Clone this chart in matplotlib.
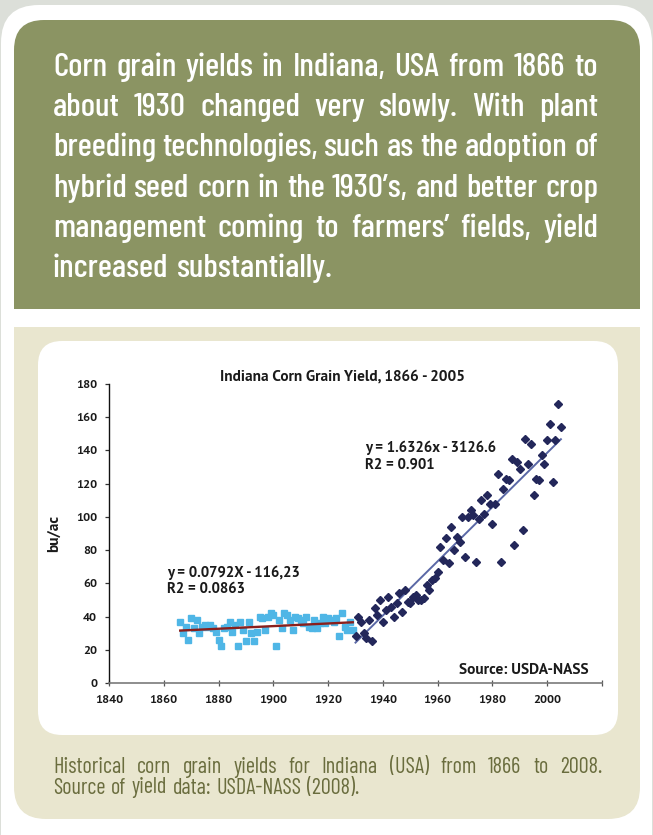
import matplotlib
matplotlib.use("Agg")
import matplotlib.pyplot as plt
from matplotlib import font_manager
from matplotlib.patches import FancyBboxPatch, Rectangle

# ---- data ------------------------------------------------------------------
early_years = list(range(1866, 1930))
early_yield = [37, 30, 34, 26, 39, 33, 38, 30, 34, 35,
               34, 35, 33, 31, 26, 22, 33, 34, 37, 31,
               35, 22, 37, 32, 25, 37, 30, 25, 31, 40,
               39, 32, 40, 42, 41, 22, 38, 33, 42, 41,
               38, 32, 40, 39, 38, 36, 40, 34, 33, 38,
               33, 36, 40, 36, 39, 38, 37, 39, 28, 42,
               34, 32, 37, 32]
late_years = list(range(1930, 2006))
late_yield = [28, 40, 37, 30, 27, 38, 25, 45, 41, 50,
              37, 44, 52, 46, 40, 48, 54, 43, 56, 49,
              48, 52, 53, 50, 50, 51, 59, 56, 62, 63,
              67, 82, 74, 87, 72, 94, 80, 88, 85, 100,
              76, 100, 104, 101, 73, 99, 110, 102, 113, 108,
              96, 108, 126, 73, 117, 123, 122, 135, 83, 133,
              129, 92, 147, 132, 144, 113, 123, 122, 137, 132,
              146, 156, 121, 146, 168, 154]
early_fit = (0.0792, -116.23)   # slope, intercept
late_fit = (1.6326, -3126.6)
x_ticks = [1840, 1860, 1880, 1900, 1920, 1940, 1960, 1980, 2000, 2020]
y_ticks = [0, 20, 40, 60, 80, 100, 120, 140, 160, 180]

intro = [
    "Corn grain yields in Indiana, USA from 1866 to",
    "about 1930 changed very slowly.  With plant",
    "breeding technologies, such as the adoption of",
    "hybrid seed corn in the 1930\u2019s, and better crop",
    "management coming to farmers\u2019 fields, yield",
    "increased substantially.",
]
caption = [
    "Historical corn grain yields for Indiana (USA) from 1866 to 2008.",
    "Source of yield data: USDA-NASS (2008).",
]

W, H = 653, 835
GREEN = "#8b9463"
BEIGE = "#e9e6cf"
TOPGREY = "#dcdfd9"
INK = "#1a1a1a"


def static_family(*names, weight=None):
    # first family that has a real (non-variable) file, with the weight if asked
    for n in names:
        for f in font_manager.fontManager.ttflist:
            if f.name != n or "[" in f.fname:
                continue
            if weight is None or f.weight == weight:
                return n
    return "DejaVu Sans"


COND = static_family("Barlow Condensed", "Archivo Narrow", "Asap Condensed", weight=500)
CAP = static_family("Barlow Condensed", "Archivo Narrow", weight=400)
SANS = static_family("Source Sans Pro", "PT Sans", "Lato", "Open Sans", weight=700)

fig = plt.figure(figsize=(W / 100, H / 100), dpi=100, facecolor=TOPGREY)
renderer = fig.canvas.get_renderer()

# background layer in pixel units (y downwards)
bg = fig.add_axes([0, 0, 1, 1], zorder=0)
bg.set_xlim(0, W)
bg.set_ylim(H, 0)
bg.axis("off")


def rbox(x0, y0, x1, y1, r, color, square=None):
    bg.add_patch(FancyBboxPatch((x0, y0), x1 - x0, y1 - y0,
                                boxstyle=f"round,pad=0,rounding_size={r}",
                                fc=color, ec="none"))
    if square == "bottom":
        bg.add_patch(Rectangle((x0, (y0 + y1) / 2), x1 - x0, (y1 - y0) / 2, fc=color, ec="none"))
    elif square == "top":
        bg.add_patch(Rectangle((x0, y0), x1 - x0, (y1 - y0) / 2, fc=color, ec="none"))


rbox(1, 5, 652, 1000, 38, "white")
rbox(14, 20, 640, 309, 30, GREEN, square="bottom")
rbox(14, 327, 640, 819, 32, BEIGE, square="top")
rbox(38, 341, 618, 735, 24, "white")


def width_of(s, family, weight, size):
    t = bg.text(0, 0, s, family=family, weight=weight, fontsize=size)
    w = t.get_window_extent(renderer).width
    t.remove()
    return w


def size_for(s, target_px, family, weight="bold"):
    return 10 * target_px / width_of(s, family, weight, 10)


def justified(lines, x0, x1, y0, step, family, weight, size, color, min_gap=0.2):
    px = size * 100 / 72
    probe = [[width_of(w, family, weight, size) for w in line.split()] for line in lines]
    scale = 1.0
    for ws in probe:
        need = sum(ws) + (len(ws) - 1) * min_gap * px
        scale = min(scale, (x1 - x0) / need)
    size *= scale
    px = size * 100 / 72
    for i, line in enumerate(lines):
        y = y0 + i * step
        words = line.split()
        ws = [w * scale for w in probe[i]]
        if i < len(lines) - 1 and len(words) > 1:
            gap = (x1 - x0 - sum(ws)) / (len(words) - 1)
        else:
            gap = 0.25 * px
        x = x0
        for w, wd in zip(words, ws):
            bg.text(x, y, w, family=family, weight=weight, fontsize=size,
                    color=color, ha="left", va="baseline")
            x += wd + gap


justified(intro, 53, 598, 76, 40.2, COND, 500, 28, "white", min_gap=0.2)
justified(caption, 53, 602, 773, 20.5, CAP, 400, 16, "#6a6d3e", min_gap=0.2)

# ---- chart -------------------------------------------------------------------
ax = fig.add_axes([109 / W, 1 - 683 / H, (602 - 109) / W, (683 - 384) / H], zorder=2)
ax.patch.set_alpha(0)
ax.set_xlim(1840, 2020)
ax.set_ylim(0, 180)

ax.plot(early_years, early_yield, ls="none", marker="s", ms=3.9,
        mfc="#4fb6e6", mec="#4fb6e6", zorder=3)
ax.plot(late_years, late_yield, ls="none", marker="D", ms=3.6,
        mfc="#23275a", mec="#23275a", zorder=3)

ex = [early_years[0], early_years[-1]]
ax.plot(ex, [early_fit[0] * v + early_fit[1] for v in ex], color="#8a1f1c", lw=1.7, zorder=4)
lx = [late_years[0], late_years[-1]]
ax.plot(lx, [late_fit[0] * v + late_fit[1] for v in lx], color="#5a68a6", lw=1.4, zorder=2)

for s in ("top", "right"):
    ax.spines[s].set_visible(False)
ax.spines["left"].set_color("#111111")
ax.spines["left"].set_linewidth(1.0)
ax.spines["bottom"].set_color("#7a7a7a")
ax.spines["bottom"].set_linewidth(1.2)

tick_size = size_for("1840", 28, SANS)
ax.set_xticks(x_ticks)
ax.set_xticklabels([str(t) if t <= 2000 else "" for t in x_ticks])
ax.set_yticks(y_ticks)
ax.tick_params(axis="x", direction="inout", length=5, width=0.9, color="#555555", pad=6.0)
ax.tick_params(axis="y", direction="out", length=3, width=0.9, color="#333333", pad=5.5)
for lab in ax.get_xticklabels() + ax.get_yticklabels():
    lab.set_family(SANS)
    lab.set_weight("bold")
    lab.set_fontsize(tick_size)
    lab.set_color(INK)

ax.set_ylabel("bu/ac", family=SANS, weight="bold", fontsize=size_for("bu/ac", 37, SANS),
              color=INK, labelpad=11)

title = "Indiana Corn Grain Yield, 1866 - 2005"
bg.text(342, 377, title, family=SANS, weight="bold", fontsize=size_for(title, 245, SANS),
        color=INK, ha="center", va="center")

note_size = size_for("y = 1.6326x - 3126.6", 131, SANS)
note = dict(family=SANS, weight="bold", fontsize=note_size, color=INK, ha="left", va="center")
ax.text(1933.6, 141.5, "y = 1.6326x - 3126.6", **note)
ax.text(1933.6, 131.2, "R2 = 0.901", **note)
ax.text(1861.2, 66.4, "y = 0.0792X - 116,23", **note)
ax.text(1861.2, 56.3, "R2 = 0.0863", **note)
src = "Source: USDA-NASS"
ax.text(2015.0, 7.8, src, family=SANS, weight="bold", fontsize=size_for(src, 130, SANS),
        color=INK, ha="right", va="center")

fig.savefig("out.png", facecolor=fig.get_facecolor())
